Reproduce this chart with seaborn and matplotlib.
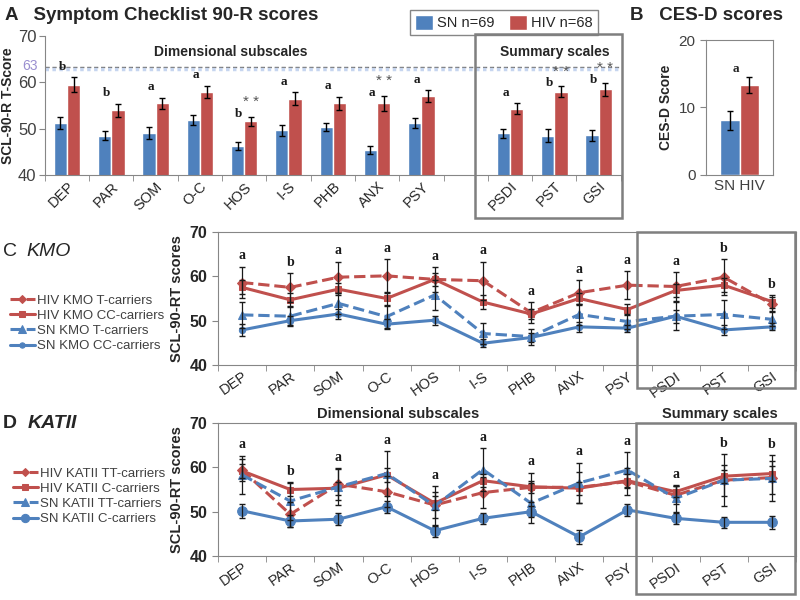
import numpy as np
import pandas as pd
import matplotlib as mpl
mpl.use('Agg')
import matplotlib.pyplot as plt
import matplotlib.transforms as mtransforms
from matplotlib.patches import Rectangle
import seaborn as sb

# ---- panel A: SCL-90-R T-scores (bars) ----
scales = ['DEP', 'PAR', 'SOM', 'O-C', 'HOS', 'I-S', 'PHB', 'ANX', 'PSY', 'PSDI', 'PST', 'GSI']
sn_mean = [51.2, 48.5, 49.0, 51.9, 46.3, 49.7, 50.4, 45.5, 51.2, 49.0, 48.5, 48.6]
sn_err = [1.3, 1.0, 1.3, 1.1, 0.8, 1.2, 0.9, 0.9, 1.1, 0.9, 1.4, 1.2]
hiv_mean = [59.5, 54.0, 55.5, 58.0, 51.6, 56.5, 55.5, 55.5, 57.0, 54.3, 58.0, 58.5]
hiv_err = [1.6, 1.4, 1.2, 1.3, 1.0, 1.4, 1.4, 1.6, 1.3, 1.2, 1.2, 1.4]
a_letters = ['b', 'b', 'a', 'a', 'b', 'a', 'a', 'a', 'a', 'a', 'b', 'b']
a_stars = ['', '', '', '', '**', '', '', '**', '', '', '**', '**']
groups_a = ['SN n=69', 'HIV n=68']

# ---- panel B: CES-D ----
cesd_groups = ['SN', 'HIV']
cesd_mean = [8.1, 13.3]
cesd_err = [1.4, 1.2]

# ---- panel C: KMO genotype ----
kmo_labels = ['HIV KMO T-carriers', 'HIV KMO CC-carriers', 'SN KMO T-carriers', 'SN KMO CC-carriers']
kmo_hiv_t = [58.6, 57.5, 59.8, 60.1, 59.3, 59.0, 51.8, 56.3, 58.0, 57.7, 59.8, 53.7]
kmo_hiv_t_err = [3.6, 3.2, 3.5, 3.8, 2.8, 4.3, 2.3, 2.8, 3.2, 3.2, 4.0, 1.6]
kmo_hiv_cc = [57.5, 54.7, 57.1, 55.0, 59.3, 54.2, 51.5, 55.0, 52.5, 56.8, 58.0, 54.3]
kmo_hiv_cc_err = [1.6, 1.5, 1.4, 1.5, 1.5, 1.5, 1.2, 1.3, 1.2, 1.5, 1.6, 1.4]
kmo_sn_t = [51.3, 51.0, 53.9, 50.9, 55.8, 47.1, 46.4, 51.4, 49.8, 51.0, 51.4, 50.3]
kmo_sn_t_err = [3.0, 2.0, 2.4, 2.5, 3.3, 2.4, 1.8, 2.3, 1.6, 3.2, 3.3, 1.6]
kmo_sn_cc = [47.9, 50.0, 51.5, 49.2, 50.1, 44.9, 46.2, 48.6, 48.3, 51.0, 47.9, 48.6]
kmo_sn_cc_err = [1.3, 1.1, 1.1, 1.1, 1.0, 0.9, 1.0, 1.2, 0.8, 1.5, 1.1, 0.8]
kmo_letters = ['a', 'b', 'a', 'a', 'a', 'a', 'a', 'a', 'a', 'a', 'b', 'b']

# ---- panel D: KATII genotype ----
kat_labels = ['HIV KATII TT-carriers', 'HIV KATII C-carriers', 'SN KATII TT-carriers', 'SN KATII C-carriers']
kat_hiv_tt = [59.4, 49.4, 56.2, 54.5, 51.5, 54.3, 55.5, 55.5, 56.8, 53.7, 57.1, 57.7]
kat_hiv_tt_err = [2.5, 2.8, 3.5, 3.5, 3.0, 3.5, 3.3, 3.5, 3.0, 2.0, 3.5, 3.8]
kat_hiv_c = [59.2, 55.0, 55.3, 58.3, 51.9, 57.0, 55.6, 55.3, 57.0, 54.5, 58.0, 58.6]
kat_hiv_c_err = [1.5, 1.4, 1.5, 1.5, 1.6, 1.5, 1.4, 1.5, 1.4, 1.3, 1.5, 1.6]
kat_sn_tt = [58.3, 52.4, 55.6, 58.6, 51.3, 59.5, 51.9, 56.5, 59.4, 53.0, 57.1, 57.5]
kat_sn_tt_err = [4.3, 4.2, 4.2, 5.0, 4.5, 4.8, 4.5, 4.5, 4.0, 3.0, 5.8, 5.2]
kat_sn_c = [50.2, 47.9, 48.3, 51.1, 45.7, 48.5, 50.0, 44.3, 50.4, 48.5, 47.6, 47.6]
kat_sn_c_err = [1.6, 1.3, 1.4, 1.3, 1.3, 1.3, 1.2, 1.6, 1.3, 1.3, 1.3, 1.5]
kat_letters = ['a', 'b', 'a', 'a', 'a', 'a', 'a', 'a', 'a', 'a', 'b', 'b']

BLUE = '#4f81bd'
RED = '#c0504d'
GRID = '#868686'
BOX = '#7f7f7f'
TXT = '#262626'

sb.set_style('white')
plt.rcParams['font.family'] = ['Liberation Sans', 'DejaVu Sans']
plt.rcParams['axes.edgecolor'] = GRID

fig = plt.figure(figsize=(8, 6), dpi=100)


def px(x, y):
    # figure-pixel (from top-left) to figure fraction
    return x / 800, 1 - y / 600


def box(x0, y0, x1, y1):
    r = Rectangle(px(x0, y1), (x1 - x0) / 800, (y1 - y0) / 600, transform=fig.transFigure,
                  fill=False, edgecolor=BOX, linewidth=1.8, zorder=10)
    fig.add_artist(r)


def cat_ticks(ax, n, rot, size):
    ax.set_xticks(np.arange(n))
    ax.set_xticks(np.arange(-0.5, n, 1.0), minor=True)
    ax.tick_params(axis='x', which='major', length=0, pad=3)
    ax.tick_params(axis='x', which='minor', length=4, color=GRID, direction='out', bottom=True)
    for lab in ax.get_xticklabels():
        lab.set_rotation(rot)
        lab.set_ha('right')
        lab.set_rotation_mode('anchor')
        lab.set_fontsize(size)
        lab.set_color(TXT)


# ================= A =================
axA = fig.add_axes([0.056, 0.708, 0.72, 0.232])
orderA = scales[:9] + [' '] + scales[9:]
dfA = pd.DataFrame({
    'scale': scales * 2,
    'group': [groups_a[0]] * 12 + [groups_a[1]] * 12,
    'score': sn_mean + hiv_mean,
})
sb.barplot(data=dfA, x='scale', y='score', hue='group', order=orderA, hue_order=groups_a,
           palette=[BLUE, RED], width=0.6, errorbar=None, saturation=1, ax=axA)
posA = np.array([orderA.index(s) for s in scales])
axA.errorbar(posA - 0.15, sn_mean, yerr=sn_err, fmt='none', ecolor='k', elinewidth=1, capsize=2.5)
axA.errorbar(posA + 0.15, hiv_mean, yerr=hiv_err, fmt='none', ecolor='k', elinewidth=1, capsize=2.5)
for p, m, e, lt, st in zip(posA, hiv_mean, hiv_err, a_letters, a_stars):
    if st:
        axA.text(p - 0.12, m + e - 0.6, lt, ha='center', va='bottom', fontsize=9.5,
                 fontweight='bold', family='Liberation Serif', color='#1a1a1a')
        axA.text(p + 0.15, m + e + 1.6, '* *', ha='center', va='bottom', fontsize=11, color='#555555')
    else:
        axA.text(p - 0.1, m + e + 1.0, lt, ha='center', va='bottom', fontsize=9.5,
                 fontweight='bold', family='Liberation Serif', color='#1a1a1a')
axA.axhline(63.4, color='#707070', ls=(0, (3, 2)), lw=1)
axA.axhline(62.8, color='#c6d5ef', ls=(0, (1, 1)), lw=2.5)
axA.text(-0.012, 63.5, '63', transform=mtransforms.blended_transform_factory(axA.transAxes, axA.transData),
         ha='right', va='center', color='#9a8fd0', fontsize=10)
axA.text(3.7, 66.6, 'Dimensional subscales', ha='center', va='center', fontsize=10, fontweight='bold', color=TXT)
axA.text(11, 66.6, 'Summary scales', ha='center', va='center', fontsize=10, fontweight='bold', color=TXT)
axA.set_ylim(40, 70)
axA.set_xlim(-0.5, 12.5)
axA.set_yticks([40, 50, 60, 70])
axA.set_xlabel('')
axA.set_ylabel('SCL-90-R T-Score', fontsize=10, fontweight='bold', color=TXT, labelpad=2)
axA.tick_params(axis='y', length=4, color=GRID, direction='out', labelsize=12, labelcolor='#404040', pad=2, left=True)
sb.despine(ax=axA)
cat_ticks(axA, 13, 45, 10.5)
axA.legend(loc='center', bbox_to_anchor=px(504, 22.5), bbox_transform=fig.transFigure, ncol=2,
           fontsize=10.5, frameon=True, fancybox=False, edgecolor=GRID, handlelength=1.2,
           handleheight=1.2, columnspacing=1.0, handletextpad=0.3, borderpad=0.35, framealpha=1)
fig.text(*px(5, 16), 'A   Symptom Checklist 90-R scores', fontsize=13.5, fontweight='bold', va='center')
box(475, 34, 622, 218)

# ================= B =================
axB = fig.add_axes([0.8825, 0.709, 0.084, 0.224])
dfB = pd.DataFrame({'x': ['SN HIV'] * 2, 'group': cesd_groups, 'score': cesd_mean})
sb.barplot(data=dfB, x='x', y='score', hue='group', hue_order=cesd_groups, palette=[BLUE, RED],
           width=0.57, errorbar=None, saturation=1, legend=False, ax=axB)
axB.errorbar([-0.1425, 0.1425], cesd_mean, yerr=cesd_err, fmt='none', ecolor='k', elinewidth=1, capsize=2.5)
axB.text(-0.05, cesd_mean[1] + cesd_err[1] + 0.3, 'a', ha='center', va='bottom', fontsize=9.5,
         fontweight='bold', family='Liberation Serif')
axB.set_ylim(0, 20)
axB.set_xlim(-0.5, 0.5)
axB.set_yticks([0, 10, 20])
axB.set_xlabel('')
axB.set_ylabel('CES-D Score', fontsize=10, fontweight='bold', color=TXT, labelpad=4)
axB.tick_params(axis='y', length=4, color=GRID, direction='out', labelsize=11, labelcolor='#404040', left=True)
axB.tick_params(axis='x', length=0, labelsize=11, labelcolor='#404040')
for s in axB.spines.values():
    s.set_color(GRID)
fig.text(*px(630, 16), 'B   CES-D scores', fontsize=13.5, fontweight='bold', va='center')


# ================= C / D =================
def line_panel(ax, series, letters, legend_xy, circle_size):
    xs = np.arange(len(scales))
    styles = [(RED, '--', 'D', 5), (RED, '-', 's', 5), (BLUE, '--', '^', 6), (BLUE, '-', 'o', circle_size)]
    tops = np.zeros(len(scales))
    for (lab, vals, errs), (col, ls, mk, ms) in zip(series, styles):
        sb.lineplot(x=xs, y=vals, ax=ax, color=col, linestyle=ls, marker=mk, markersize=ms,
                    markeredgecolor=col, linewidth=2.2, label=lab)
        ax.errorbar(xs, vals, yerr=errs, fmt='none', ecolor='#1a1a1a', elinewidth=0.9, capsize=2.5, zorder=3)
        tops = np.maximum(tops, np.array(vals) + np.array(errs))
    for x, t, lt in zip(xs, tops, letters):
        ax.text(x, t + 1.0, lt, ha='center', va='bottom', fontsize=10, fontweight='bold',
                family='Liberation Serif', color='#1a1a1a')
    ax.set_ylim(40, 70)
    ax.set_xlim(-0.5, len(scales) - 0.5)
    ax.set_yticks([40, 50, 60, 70])
    ax.set_xticklabels(scales)
    ax.set_ylabel('SCL-90-RT scores', fontsize=10.5, fontweight='bold', color=TXT, labelpad=4)
    ax.tick_params(axis='y', length=4, color=GRID, direction='out', labelsize=11.5, labelcolor=TXT, left=True)
    for lab in ax.get_yticklabels():
        lab.set_fontweight('bold')
    for s in ax.spines.values():
        s.set_color(GRID)
    cat_ticks(ax, len(scales), 35, 10.5)
    h, l = ax.get_legend_handles_labels()
    ax.legend(h, l, loc='upper left', bbox_to_anchor=px(*legend_xy), bbox_transform=fig.transFigure,
              frameon=False, fontsize=9.5, handlelength=1.9, handletextpad=0.15, labelspacing=0.22,
              borderpad=0, labelcolor='#404040', markerscale=0.85)


axC = fig.add_axes([0.2725, 0.3917, 0.7225, 0.2217])
line_panel(axC, [(kmo_labels[0], kmo_hiv_t, kmo_hiv_t_err), (kmo_labels[1], kmo_hiv_cc, kmo_hiv_cc_err),
                 (kmo_labels[2], kmo_sn_t, kmo_sn_t_err), (kmo_labels[3], kmo_sn_cc, kmo_sn_cc_err)],
           kmo_letters, (3, 288), 4.5)
fig.text(*px(3, 251), 'C', fontsize=14, va='center')
fig.text(*px(26, 251), 'KMO', fontsize=14, style='italic', va='center')
box(637, 232, 795, 388)

axD = fig.add_axes([0.2725, 0.0733, 0.7225, 0.2217])
line_panel(axD, [(kat_labels[0], kat_hiv_tt, kat_hiv_tt_err), (kat_labels[1], kat_hiv_c, kat_hiv_c_err),
                 (kat_labels[2], kat_sn_tt, kat_sn_tt_err), (kat_labels[3], kat_sn_c, kat_sn_c_err)],
           kat_letters, (6, 461), 7)
fig.text(*px(3, 423), 'D', fontsize=14, fontweight='bold', va='center')
fig.text(*px(28, 423), 'KATII', fontsize=14, fontweight='bold', style='italic', va='center')
fig.text(*px(398, 414), 'Dimensional subscales', fontsize=10.5, fontweight='bold', ha='center', va='center', color=TXT)
fig.text(*px(720, 414), 'Summary scales', fontsize=10.5, fontweight='bold', ha='center', va='center', color=TXT)
box(636, 423, 795, 594)

fig.savefig('out.png', dpi=100)
